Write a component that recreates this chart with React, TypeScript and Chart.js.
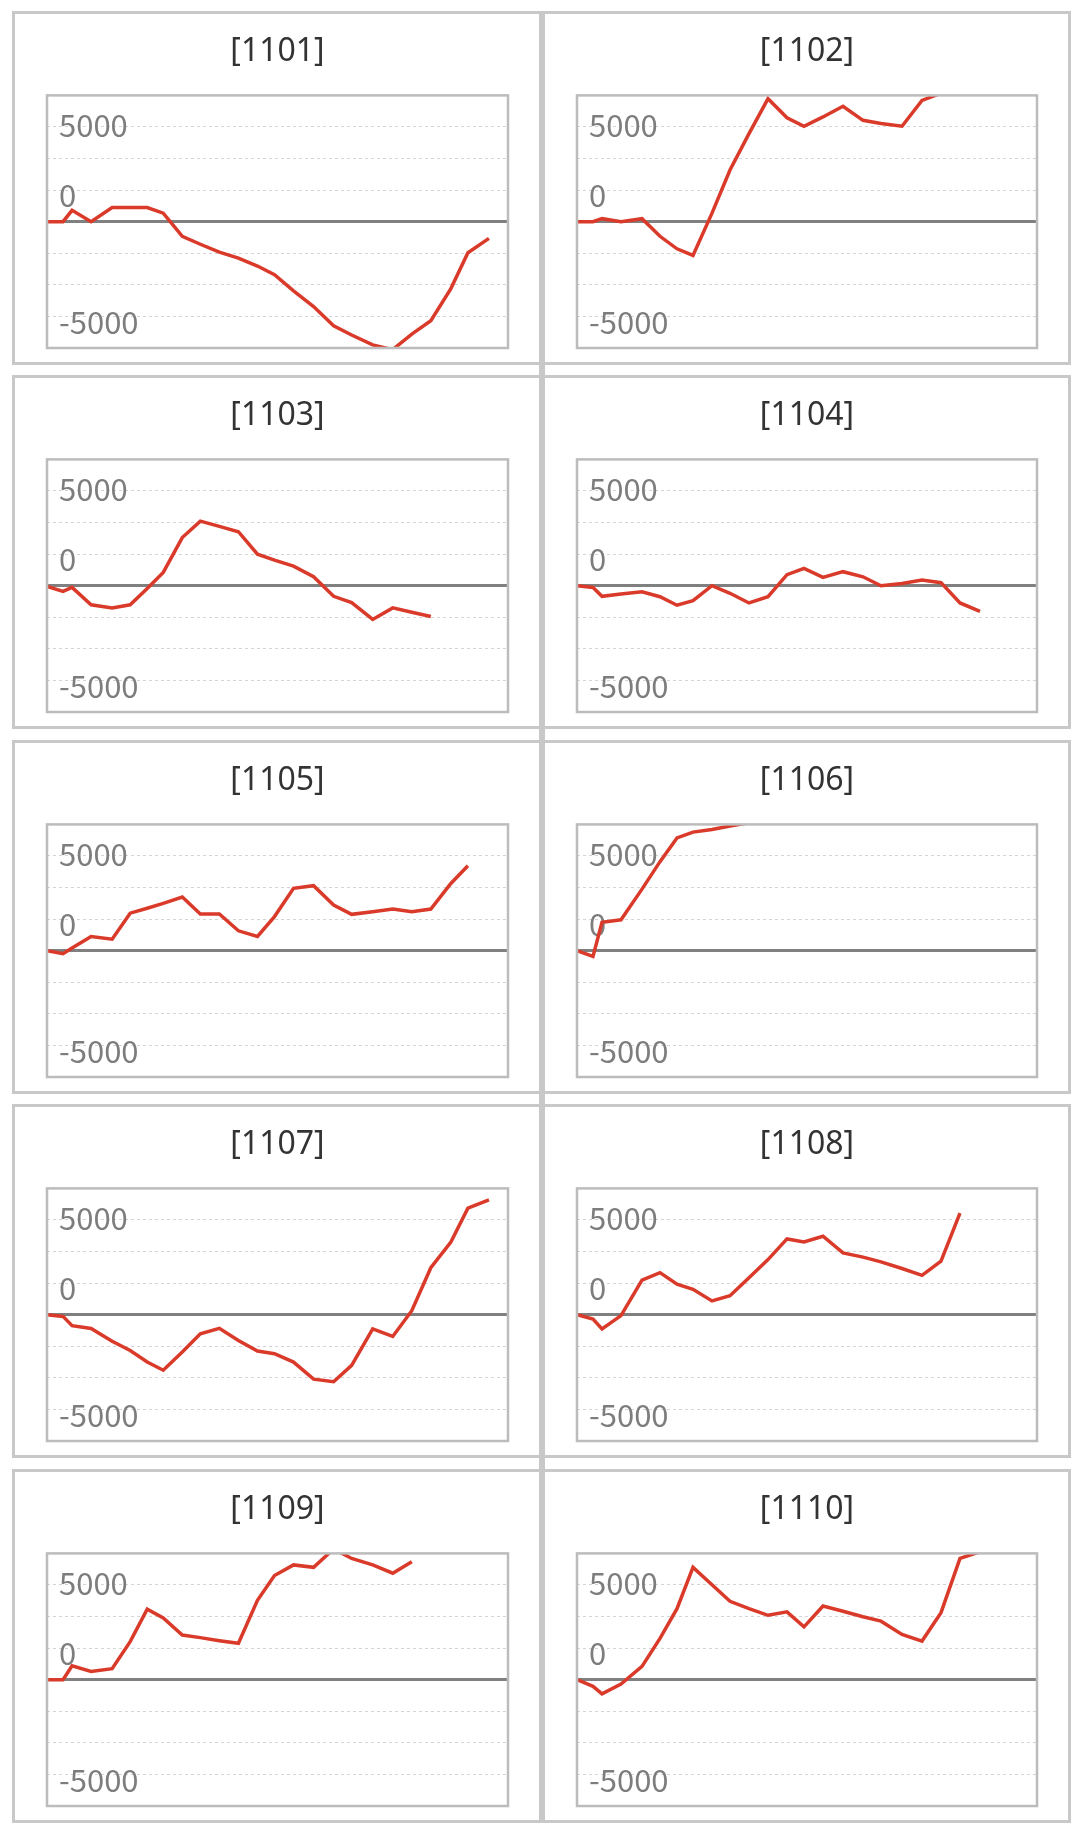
import { useEffect, useRef } from "react"
import { Chart, registerables } from "chart.js"

Chart.register(...registerables)

// shared timeline (trading periods), same for every code
const timeline = [0, 16, 25, 44, 65, 83, 100, 116, 135, 153, 172, 191, 210, 227, 246, 266, 286, 304, 325, 345, 364, 383, 403, 420, 441]
const timelineEnd = 460

const codes = ["1101", "1102", "1103", "1104", "1105", "1106", "1107", "1108", "1109", "1110"]

const s1101 = [0, 0, 600, 0, 750, 750, 750, 450, -770, -1190, -1610, -1920, -2340, -2800, -3650, -4480, -5490, -5980, -6500, -6750, -5930, -5230, -3530, -1640, -880]
const s1102 = [0, 0, 160, 0, 160, -770, -1430, -1780, 450, 2730, 4650, 6490, 5490, 5040, 5530, 6090, 5350, 5180, 5040, 6400, 6780]
const s1103 = [-40, -300, -90, -1010, -1170, -1010, -150, 700, 2540, 3410, 3130, 2850, 1660, 1350, 1030, 470, -560, -890, -1780, -1170, -1400, -1630]
const s1104 = [0, -90, -560, -440, -320, -580, -1030, -790, 0, -400, -910, -580, 580, 910, 440, 740, 470, 0, 120, 300, 160, -910, -1360]
const s1105 = [0, -160, 140, 750, 610, 1980, 2240, 2500, 2830, 1940, 1940, 1050, 750, 1800, 3290, 3430, 2410, 1920, 2060, 2200, 2060, 2200, 3550, 4480]
const s1106 = [0, -300, 1500, 1630, 3250, 4700, 5950, 6260, 6400, 6580, 6750]
const s1107 = [0, -90, -580, -730, -1400, -1890, -2500, -2930, -1970, -1010, -720, -1360, -1920, -2060, -2500, -3400, -3540, -2670, -750, -1150, 210, 2480, 3840, 5620, 6060]
const s1108 = [0, -230, -750, -50, 1820, 2220, 1610, 1340, 730, 1000, 1950, 2910, 4000, 3840, 4140, 3260, 3040, 2790, 2440, 2080, 2830, 5360]
const s1109 = [0, 0, 730, 440, 580, 2010, 3720, 3260, 2360, 2220, 2060, 1920, 4190, 5500, 6060, 5930, 6900, 6400, 6060, 5620, 6230]
const s1110 = [0, -350, -750, -230, 700, 2180, 3750, 5930, 5010, 4140, 3750, 3400, 3580, 2790, 3890, 3610, 3320, 3090, 2390, 2040, 3540, 6400, 6750]

const seriesList = [s1101, s1102, s1103, s1104, s1105, s1106, s1107, s1108, s1109, s1110]

// y axis: 8 grid bands; the three labels sit at their own spots, not on the lines
const gridStep = 5000 / 3
const gridValues = [-4, -3, -2, -1, 0, 1, 2, 3, 4].map(k => k * gridStep)
const labelAnchors = [5100, 1400, -5280]
const tickTexts = ["5000", "0", "-5000"]

const PANEL_H = 354
const PANEL_TOPS = [3, 367, 732, 1096, 1461]
const COL_LEFT = [4, 534]
const COL_W = [530, 529]

const isZero = (v: number | undefined) => v !== undefined && Math.abs(v) < 1e-6

const plotFrame = {
  id: "plotFrame",
  afterDatasetsDraw(chart: Chart) {
    const { ctx, chartArea } = chart
    ctx.save()
    ctx.strokeStyle = "#bcbcbc"
    ctx.lineWidth = 2.5
    ctx.strokeRect(chartArea.left, chartArea.top, chartArea.right - chartArea.left, chartArea.bottom - chartArea.top)
    ctx.restore()
  },
}

const zeroWidth = (scale: any) => {
  scale.width = 0
  scale.paddingTop = 0
  scale.paddingBottom = 0
}

function CodePanel({ code, values, left, top, width }: { code: string; values: number[]; left: number; top: number; width: number }) {
  const chartRef = useRef<HTMLCanvasElement>(null)

  useEffect(() => {
    if (!chartRef.current) return
    const chart = new Chart(chartRef.current, {
      type: "line",
      data: {
        datasets: [
          {
            data: values.map((v, i) => ({ x: timeline[i], y: v })),
            yAxisID: "y",
            borderColor: "#da3a2a",
            borderWidth: 3.5,
            pointRadius: 0,
            tension: 0,
            fill: false,
          },
        ],
      },
      options: {
        animation: false,
        responsive: false,
        events: [],
        layout: { padding: { left: 32, right: 31, top: 0, bottom: 14 } },
        plugins: {
          legend: { display: false },
          tooltip: { enabled: false },
          title: {
            display: true,
            text: `[${code}]`,
            color: "#333",
            font: { family: "'Noto Sans', sans-serif", size: 32, weight: "normal", lineHeight: 1.2 },
            padding: { top: 19, bottom: 24 },
          },
        },
        scales: {
          x: { type: "linear", min: 0, max: timelineEnd, display: false },
          y: {
            position: "left",
            min: -4 * gridStep,
            max: 4 * gridStep,
            afterBuildTicks: (scale: any) => {
              scale.ticks = gridValues.map(v => ({ value: v }))
            },
            afterFit: zeroWidth,
            grid: {
              drawTicks: false,
              color: (c: any) => (isZero(c.tick?.value) ? "#808080" : "#d4d4d4"),
              lineWidth: (c: any) => (isZero(c.tick?.value) ? 3 : 1),
            },
            border: {
              display: false,
              dash: (c: any) => (isZero(c.tick?.value) ? [] : [3, 3]),
            },
            ticks: { display: false },
          },
          yLabels: {
            position: "left",
            min: -4 * gridStep,
            max: 4 * gridStep,
            afterBuildTicks: (scale: any) => {
              scale.ticks = labelAnchors.map(v => ({ value: v }))
            },
            afterFit: zeroWidth,
            grid: { display: false, drawTicks: false },
            border: { display: false },
            ticks: {
              autoSkip: false,
              mirror: true,
              padding: 12,
              color: "#7d7d7d",
              font: { family: "'Noto Sans CJK JP', sans-serif", size: 31 },
              callback: (_value: any, index: number) => tickTexts[index],
            },
          },
        },
      },
      plugins: [plotFrame],
    })
    return () => chart.destroy()
  }, [code, values])

  return (
    <div
      style={{
        position: "absolute",
        left,
        top,
        width,
        height: PANEL_H,
        border: "3px solid #c8c8c8",
        boxSizing: "border-box",
        background: "#fff",
      }}
    >
      <canvas ref={chartRef} width={width - 6} height={PANEL_H - 6} style={{ display: "block" }} />
    </div>
  )
}

export default function App() {
  return (
    <div style={{ position: "relative", width: 1071, height: 1825 }}>
      {codes.map((code, i) => {
        const col = i % 2
        const row = Math.floor(i / 2)
        return (
          <CodePanel
            key={code}
            code={code}
            values={seriesList[i]}
            left={COL_LEFT[col]}
            top={PANEL_TOPS[row]}
            width={COL_W[col]}
          />
        )
      })}
      <div style={{ position: "absolute", left: 531, top: 3, width: 6, height: 1812, background: "#c8c8c8" }} />
    </div>
  )
}
